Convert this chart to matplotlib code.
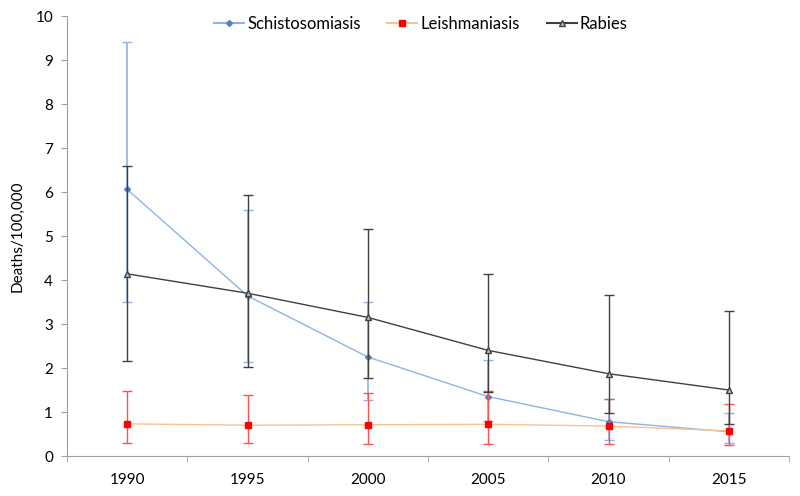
import matplotlib
matplotlib.use("Agg")
import matplotlib.pyplot as plt
from matplotlib.lines import Line2D
import numpy as np

years = ["1990", "1995", "2000", "2005", "2010", "2015"]

schisto = [6.06, 3.64, 2.25, 1.35, 0.78, 0.55]
schisto_hi = [9.42, 5.58, 3.50, 2.18, 1.30, 0.98]
schisto_lo = [3.51, 2.14, 1.28, 0.80, 0.36, 0.30]

leish = [0.73, 0.70, 0.71, 0.72, 0.68, 0.57]
leish_hi = [1.48, 1.39, 1.43, 1.47, 1.30, 1.19]
leish_lo = [0.30, 0.29, 0.27, 0.28, 0.27, 0.25]

rabies = [4.14, 3.70, 3.15, 2.40, 1.87, 1.50]
rabies_hi = [6.58, 5.93, 5.17, 4.13, 3.66, 3.30]
rabies_lo = [2.17, 2.03, 1.78, 1.45, 0.98, 0.73]

plt.rcParams['font.family'] = ['Lato', 'DejaVu Sans']

fig = plt.figure(figsize=(8, 4.96), dpi=100)
ax = fig.add_axes([67/800, 40/496, (789-67)/800, (456-16)/496])

x = np.arange(len(years))

def err(v, lo, hi):
    v = np.array(v); lo = np.array(lo); hi = np.array(hi)
    return np.vstack([v - lo, hi - v])

styles = [
    dict(label='Schistosomiasis', color='#8EB4E3', ecolor='#8EB4E3', marker='D', ms=3,
         mfc='#4F81BD', mec='#4F81BD', elw=1.2),
    dict(label='Leishmaniasis', color='#FAC090', ecolor='#FF5050', marker='s', ms=4,
         mfc='#FF0000', mec='#FF0000', elw=1.0),
    dict(label='Rabies', color='#404040', ecolor='#404040', marker='^', ms=4,
         mfc='#BFBFBF', mec='#404040', elw=1.0),
]
series = [(schisto, schisto_lo, schisto_hi), (leish, leish_lo, leish_hi), (rabies, rabies_lo, rabies_hi)]

handles = []
for z, (st, (v, lo, hi)) in enumerate(zip(styles, series)):
    ax.errorbar(x, v, yerr=err(v, lo, hi), color=st['color'], lw=1.0,
                ecolor=st['ecolor'], elinewidth=st['elw'], capsize=3.5, capthick=1.0,
                marker=st['marker'], ms=st['ms'], mfc=st['mfc'], mec=st['mec'], zorder=2 + z)
    handles.append(Line2D([], [], color=st['color'], lw=1.5, marker=st['marker'], ms=st['ms'],
                          mfc=st['mfc'], mec=st['mec'], label=st['label']))

ax.set_xlim(-0.5, len(years) - 0.5)
ax.set_ylim(0, 10)
ax.set_yticks(range(0, 11))
ax.set_xticks(x)
ax.set_xticklabels(years)
ax.set_xticks(np.arange(-0.5, len(years) + 0.5, 1), minor=True)
ax.tick_params(axis='x', which='major', length=0, pad=12, labelsize=11)
ax.tick_params(axis='x', which='minor', length=4, color='#A0A0A0', direction='out')
ax.tick_params(axis='y', length=4, color='#A0A0A0', direction='out', labelsize=11, pad=6)

for s in ['top', 'right']:
    ax.spines[s].set_visible(False)
for s in ['left', 'bottom']:
    ax.spines[s].set_color('#A0A0A0')

ax.set_ylabel('Deaths/100,000', fontsize=11, labelpad=8)

ax.legend(handles=handles, loc='upper center', bbox_to_anchor=(0.49, 1.035), ncol=3, frameon=False,
          fontsize=12, handlelength=1.8, columnspacing=1.6, handletextpad=0.2)

fig.savefig('out.png', dpi=100)
